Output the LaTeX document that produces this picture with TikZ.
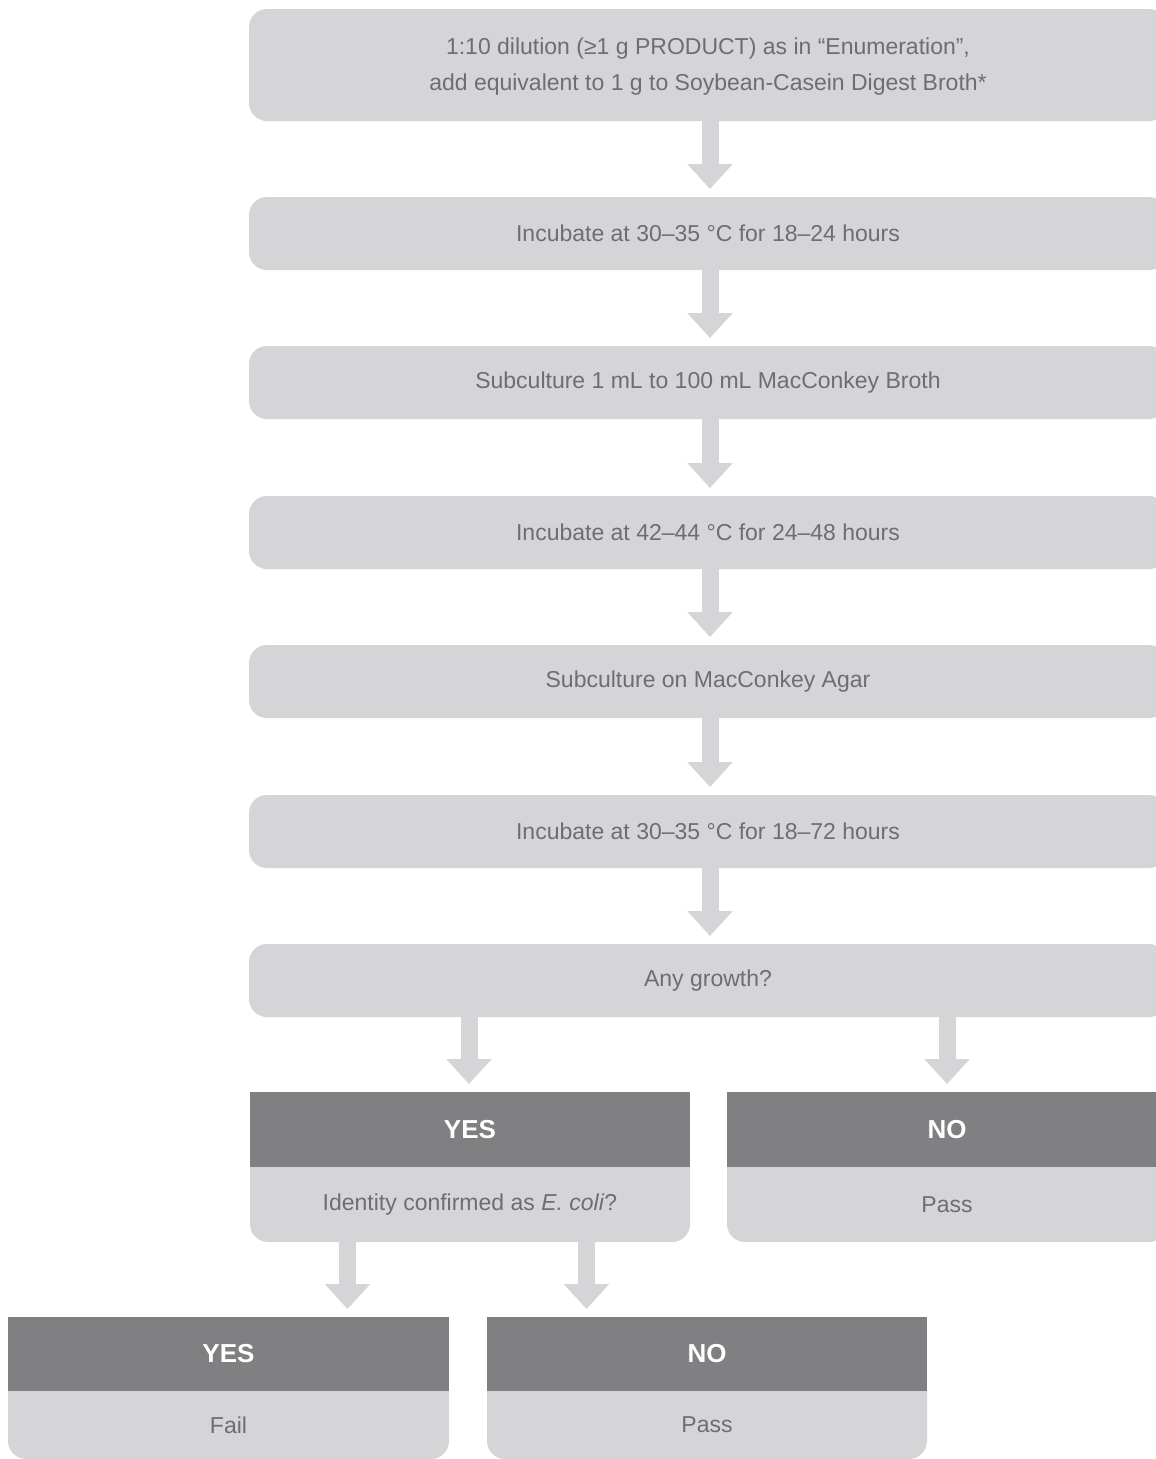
\documentclass[tikz,border=0pt]{standalone}
\usepackage{fontspec}
\setmainfont{Liberation Sans}
\usetikzlibrary{arrows.meta,backgrounds}
\definecolor{boxlight}{HTML}{D5D5D7}
\definecolor{hdr}{HTML}{808083}
\definecolor{txt}{HTML}{6E6E72}
\tikzset{
  stepbox/.style={fill=boxlight, rounded corners=18pt, text=txt, align=center,
    inner sep=0pt, outer sep=0pt, font=\fontsize{23}{36}\selectfont},
  hdrbox/.style={fill=hdr, text=white, inner sep=0pt, outer sep=0pt,
    font=\fontsize{26}{30}\selectfont\bfseries},
  bodybox/.style={text=txt, inner sep=0pt, outer sep=0pt,
    font=\fontsize{23}{28}\selectfont},
  fatarrow/.style={draw=boxlight, line width=17pt,
    -{Triangle[width=44pt,length=25pt]}, shorten >=8pt},
}
\newcommand{\bodyfill}[1]{%
  \fill[boxlight] (#1.north west) -- ([yshift=18pt]#1.south west)
    arc[start angle=180, end angle=270, radius=18pt]
    -- ([xshift=-18pt]#1.south east)
    arc[start angle=270, end angle=360, radius=18pt]
    -- (#1.north east) -- cycle;}
\begin{document}
\begin{tikzpicture}[x=1pt,y=-1pt]
\useasboundingbox (0,0) rectangle (1156,1459);

% main column
\node[stepbox, minimum width=918pt, minimum height=112pt] (s1) at (708,65)
  {\raisebox{-6pt}{\begin{tabular}{@{}c@{}}1:10 dilution (≥1 g PRODUCT) as in “Enumeration”,\\
   add equivalent to 1 g to Soybean-Casein Digest Broth*\end{tabular}}};
\node[stepbox, minimum width=918pt, minimum height=73pt] (s2) at (708,233.5)
  {Incubate at 30–35 °C for 18–24 hours};
\node[stepbox, minimum width=918pt, minimum height=73pt] (s3) at (708,382.5)
  {Subculture 1 mL to 100 mL MacConkey Broth};
\node[stepbox, minimum width=918pt, minimum height=73pt] (s4) at (708,532.5)
  {Incubate at 42–44 °C for 24–48 hours};
\node[stepbox, minimum width=918pt, minimum height=73pt] (s5) at (708,681.5)
  {Subculture on MacConkey Agar};
\node[stepbox, minimum width=918pt, minimum height=73pt] (s6) at (708,831.5)
  {Incubate at 30–35 °C for 18–72 hours};
\node[stepbox, minimum width=918pt, minimum height=73pt] (s7) at (708,980.5)
  {Any growth?};

% first decision
\node[hdrbox, minimum width=440pt, minimum height=75pt] (y1h) at (470,1129.5) {YES};
\node[bodybox, minimum width=440pt, minimum height=75pt] (y1b) at (470,1204.5)
  {Identity confirmed as \textit{E. coli}?};
\node[hdrbox, minimum width=440pt, minimum height=75pt] (n1h) at (947,1129.5) {NO};
\node[bodybox, minimum width=440pt, minimum height=75pt] (n1b) at (947,1204.5) {Pass};

% second decision
\node[hdrbox, minimum width=441pt, minimum height=74pt] (y2h) at (228.5,1354) {YES};
\node[bodybox, minimum width=441pt, minimum height=68pt] (y2b) at (228.5,1425) {Fail};
\node[hdrbox, minimum width=440pt, minimum height=74pt] (n2h) at (707,1354) {NO};
\node[bodybox, minimum width=440pt, minimum height=68pt] (n2b) at (707,1425) {Pass};

\begin{pgfonlayer}{background}
  \bodyfill{y1b}
  \bodyfill{n1b}
  \bodyfill{y2b}
  \bodyfill{n2b}
\end{pgfonlayer}

% connectors
\coordinate (cx) at (710,0);
\coordinate (lx) at (469,0);
\coordinate (rx) at (947,0);
\coordinate (llx) at (347.5,0);
\coordinate (lrx) at (586.5,0);
\draw[fatarrow] (s1.south -| cx) -- (s2.north -| cx);
\draw[fatarrow] (s2.south -| cx) -- (s3.north -| cx);
\draw[fatarrow] (s3.south -| cx) -- (s4.north -| cx);
\draw[fatarrow] (s4.south -| cx) -- (s5.north -| cx);
\draw[fatarrow] (s5.south -| cx) -- (s6.north -| cx);
\draw[fatarrow] (s6.south -| cx) -- (s7.north -| cx);
\draw[fatarrow] (s7.south -| lx) -- (y1h.north -| lx);
\draw[fatarrow] (s7.south -| rx) -- (n1h.north -| rx);
\draw[fatarrow] (y1b.south -| llx) -- (y2h.north -| llx);
\draw[fatarrow] (y1b.south -| lrx) -- (n2h.north -| lrx);
\end{tikzpicture}
\end{document}
